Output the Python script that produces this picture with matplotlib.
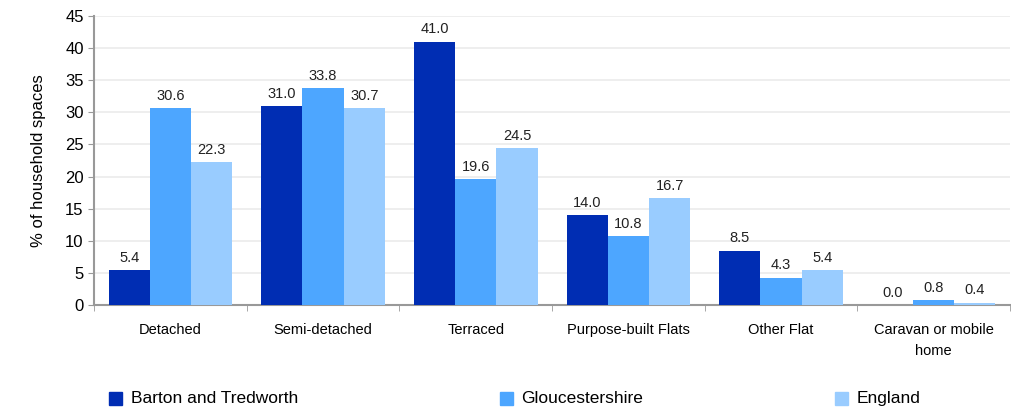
import numpy as np
import matplotlib.pyplot as plt
from matplotlib.ticker import FixedLocator

plt.rcParams['font.family'] = ['Liberation Sans', 'DejaVu Sans']

categories = ['Detached', 'Semi-detached', 'Terraced', 'Purpose-built Flats',
              'Other Flat', 'Caravan or mobile\nhome']
series = ['Barton and Tredworth', 'Gloucestershire', 'England']
barton = [5.4, 31.0, 41.0, 14.0, 8.5, 0.0]
glos = [30.6, 33.8, 19.6, 10.8, 4.3, 0.8]
england = [22.3, 30.7, 24.5, 16.7, 5.4, 0.4]
colors = ['#002DB3', '#4DA6FF', '#99CCFF']

fig = plt.figure(figsize=(10.12, 4.08), dpi=100)
ax = fig.add_axes([0.093, 0.252, 0.905, 0.709])

x = np.arange(len(categories))
w = 0.27
for i, (vals, c) in enumerate(zip([barton, glos, england], colors)):
    pos = x + (i - 1) * w
    ax.bar(pos, vals, width=w, color=c, zorder=3)
    for p, v in zip(pos, vals):
        ax.text(p, v + 0.8, f'{v:.1f}', ha='center', va='bottom', fontsize=10.5, color='#222222')

ax.set_xlim(-0.5, len(categories) - 0.5)
ax.set_ylim(0, 45)
ax.set_yticks(np.arange(0, 46, 5))
ax.tick_params(axis='y', labelsize=12, length=4, color='#999999')
ax.set_xticks(x)
ax.set_xticklabels(categories, fontsize=10.5, linespacing=1.6)
ax.tick_params(axis='x', which='major', length=0, pad=13)
ax.xaxis.set_minor_locator(FixedLocator(np.arange(-0.5, len(categories), 1)))
ax.tick_params(axis='x', which='minor', length=4, color='#999999')
ax.grid(axis='y', color='#EBEBEB', linewidth=1.2, zorder=0)
ax.set_ylabel('% of household spaces', fontsize=12, labelpad=14)

for s in ['top', 'right']:
    ax.spines[s].set_visible(False)
for s in ['left', 'bottom']:
    ax.spines[s].set_color('#999999')
    ax.spines[s].set_linewidth(1.5)

# legend entries spread across the bottom
leg_x = [0.108, 0.494, 0.825]
for hx, lab, c in zip(leg_x, series, colors):
    fig.patches.append(plt.Rectangle((hx, 0.007), 0.013, 0.032, color=c, transform=fig.transFigure))
    fig.text(hx + 0.021, 0.023, lab, fontsize=12.5, va='center', ha='left')

fig.savefig('out.png', dpi=100)
